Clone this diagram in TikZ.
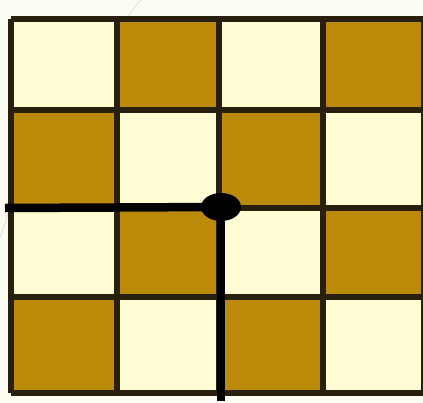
\documentclass[tikz,border=0pt]{standalone}
\usetikzlibrary{shapes.geometric}
\definecolor{bgc}{RGB}{253,252,242}
\definecolor{darkc}{RGB}{186,138,8}
\definecolor{lightc}{RGB}{255,253,212}
\definecolor{gridc}{RGB}{40,32,12}
\definecolor{faint}{RGB}{222,222,226}
\begin{document}
\begin{tikzpicture}[x=1pt,y=-1pt,
  gridline/.style={draw=gridc,line width=6pt},
  pathline/.style={draw=black,line width=8.5pt},
  dot/.style={ellipse,fill=black,minimum width=40pt,minimum height=28pt,inner sep=0pt}]
\useasboundingbox (0,0) rectangle (423,402);
\fill[bgc] (0,0) rectangle (423,402);
% faint background marks
\draw[faint,line width=0.7pt] (141,0) -- (128,16);
\draw[faint,line width=0.7pt] (8,214) -- (0,238);
% cells
\def\xs{{11,117,219,323,424}}
\def\ys{{19,110,208,297,393}}
\foreach \r in {0,1,2,3}{
  \foreach \c in {0,1,2,3}{
    \pgfmathsetmacro{\xa}{\xs[\c]}
    \pgfmathsetmacro{\xb}{\xs[\c+1]}
    \pgfmathsetmacro{\ya}{\ys[\r]}
    \pgfmathsetmacro{\yb}{\ys[\r+1]}
    \pgfmathtruncatemacro{\parity}{mod(\r+\c,2)}
    \ifnum\parity=0
      \fill[lightc] (\xa,\ya) rectangle (\xb,\yb);
    \else
      \fill[darkc] (\xa,\ya) rectangle (\xb,\yb);
    \fi
  }
}
% grid lines
\foreach \x in {11,117,219,323,424}{
  \draw[gridline] (\x,19) -- (\x,393);
}
\foreach \y in {19,110,208,297,393}{
  \draw[gridline] (11,\y) -- (424,\y);
}
% path
\node[dot] (c) at (221,207) {};
\coordinate (l) at (5,208);
\coordinate (b) at (221,401);
\draw[pathline] (l) -- (c.center);
\draw[pathline] (c.center) -- (b);
\end{tikzpicture}
\end{document}
